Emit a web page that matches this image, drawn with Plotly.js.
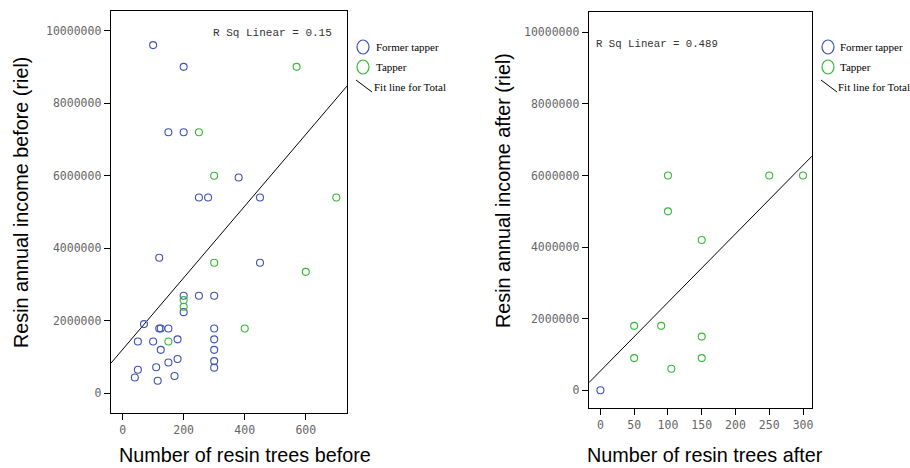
<!DOCTYPE html>
<html>
<head>
<meta charset="utf-8">
<script src="https://cdn.plot.ly/plotly-3.0.1.min.js"></script>
<style>html,body{margin:0;padding:0;background:#fff;}#chart{width:910px;height:468px;}</style>
</head>
<body>
<div id="chart"></div>
<script>
// ---- Left panel: before ----
const beforeFormerTrees = [100,200,150,200,380,250,280,450,120,450,200,250,300,200,70,120,125,150,300,50,100,180,300,125,300,300,300,180,150,110,50,40,170,115];
const beforeFormerIncome = [9600000,9000000,7200000,7200000,5950000,5400000,5400000,5400000,3740000,3600000,2690000,2690000,2690000,2240000,1910000,1790000,1790000,1790000,1790000,1430000,1430000,1490000,1490000,1200000,1200000,890000,710000,950000,850000,720000,650000,440000,480000,350000];
const beforeTapperTrees = [250,570,300,700,300,600,200,200,400,150];
const beforeTapperIncome = [7200000,9000000,6000000,5400000,3600000,3350000,2570000,2390000,1790000,1430000];
const beforeFit = {intercept: 1210000, slope: 9880, r2: "0.15"};

// ---- Right panel: after ----
const afterFormerTrees = [0];
const afterFormerIncome = [0];
const afterTapperTrees = [100,250,300,100,150,50,90,150,50,150,105];
const afterTapperIncome = [6000000,6000000,6000000,5000000,4200000,1800000,1800000,1500000,900000,900000,600000];
const afterFit = {intercept: 540000, slope: 19160, r2: "0.489"};

const seriesNames = ["Former tapper", "Tapper", "Fit line for Total"];
const yTicks = [0,2000000,4000000,6000000,8000000,10000000];
const xTicksBefore = [0,200,400,600];
const xTicksAfter = [0,50,100,150,200,250,300];

const BLUE = "#3f51b8", GREEN = "#35b835";
const W = 910, H = 468;
const xRange1 = [-38, 735], yRange1 = [-540000, 10540000];
const xRange2 = [-16.9, 313.3], yRange2 = [-495000, 10570000];

function mk(x, y, color, xa, ya) {
  return {type:"scatter", mode:"markers", x:x, y:y, xaxis:xa, yaxis:ya,
    marker:{symbol:"circle-open", size:7, color:color, line:{width:1.1, color:color}},
    showlegend:false, hoverinfo:"skip"};
}
function fitTrace(fit, xr, xa, ya) {
  const xs = [xr[0], xr[1]];
  return {type:"scatter", mode:"lines", x:xs, y:xs.map(v => fit.intercept + fit.slope*v),
    xaxis:xa, yaxis:ya, line:{color:"#000", width:1}, showlegend:false, hoverinfo:"skip"};
}

const traces = [
  fitTrace(beforeFit, xRange1, "x", "y"),
  mk(beforeFormerTrees, beforeFormerIncome, BLUE, "x", "y"),
  mk(beforeTapperTrees, beforeTapperIncome, GREEN, "x", "y"),
  fitTrace(afterFit, xRange2, "x2", "y2"),
  mk(afterFormerTrees, afterFormerIncome, BLUE, "x2", "y2"),
  mk(afterTapperTrees, afterTapperIncome, GREEN, "x2", "y2")
];

const tickFont = {family:"DejaVu Sans Mono", size:11.5, color:"#666"};
function xax(dom, range, ticks) {
  return {domain:dom, range:range, tickvals:ticks, ticktext:ticks.map(String), ticks:"outside", ticklen:6,
    tickcolor:"#000", tickfont:tickFont, showgrid:false, zeroline:false, showline:true, linecolor:"#000",
    linewidth:1.3, mirror:true, fixedrange:true};
}
function yax(dom, range, anchor) {
  return {domain:dom, range:range, anchor:anchor, tickvals:yTicks, ticktext:yTicks.map(String), ticks:"outside", ticklen:6,
    tickcolor:"#000", tickfont:tickFont, showgrid:false, zeroline:false, showline:true, linecolor:"#000",
    linewidth:1.3, mirror:true, fixedrange:true};
}

const px = v => v / W, py = v => 1 - v / H;
const titleFont = {family:"Liberation Sans, Arial", size:19.8, color:"#000"};
const legFont = {family:"Liberation Serif, Times New Roman", size:11, color:"#000"};
function ann(text, x, y, font, extra) {
  return Object.assign({text:text, x:px(x), y:py(y), xref:"paper", yref:"paper", showarrow:false,
    xanchor:"center", yanchor:"middle", font:font}, extra || {});
}

const annotations = [
  ann("Number of resin trees before", 245, 455, titleFont),
  ann("Number of resin trees after", 705, 455, titleFont),
  ann("Resin annual income before (riel)", 21, 203, titleFont, {textangle:-90}),
  ann("Resin annual income after (riel)", 503, 191, titleFont, {textangle:-90}),
  ann("R Sq Linear = " + beforeFit.r2, 272, 33, {family:"Liberation Mono, Courier New", size:11, color:"#333"}),
  ann("R Sq Linear = " + afterFit.r2, 657, 44, {family:"Liberation Mono, Courier New", size:10.7, color:"#333"})
];
const shapes = [];
[[357, 374], [822, 838]].forEach(([cx, tx]) => {
  const cols = [BLUE, GREEN];
  [47, 67].forEach((cy, i) => {
    shapes.push({type:"circle", xref:"paper", yref:"paper", x0:px(cx), x1:px(cx+12), y0:py(cy-7), y1:py(cy+7),
      line:{color:cols[i], width:1.2}});
    annotations.push(ann(seriesNames[i], tx, cy, legFont, {xanchor:"left"}));
  });
  shapes.push({type:"line", xref:"paper", yref:"paper", x0:px(cx-1), y0:py(80), x1:px(cx+15), y1:py(92),
    line:{color:"#000", width:1}});
  annotations.push(ann(seriesNames[2], tx - 2, 87, legFont, {xanchor:"left"}));
});

const layout = {
  width:W, height:H, margin:{l:0, r:0, t:0, b:0}, paper_bgcolor:"#fff", plot_bgcolor:"#fff", showlegend:false,
  xaxis: xax([px(111), px(347)], xRange1, xTicksBefore),
  yaxis: yax([py(413), py(11)], yRange1, "x"),
  xaxis2: Object.assign(xax([px(589), px(812)], xRange2, xTicksAfter), {anchor:"y2"}),
  yaxis2: yax([py(408), py(12)], yRange2, "x2"),
  annotations: annotations, shapes: shapes
};
Plotly.newPlot("chart", traces, layout, {displayModeBar:false, staticPlot:true});
</script>
</body>
</html>
